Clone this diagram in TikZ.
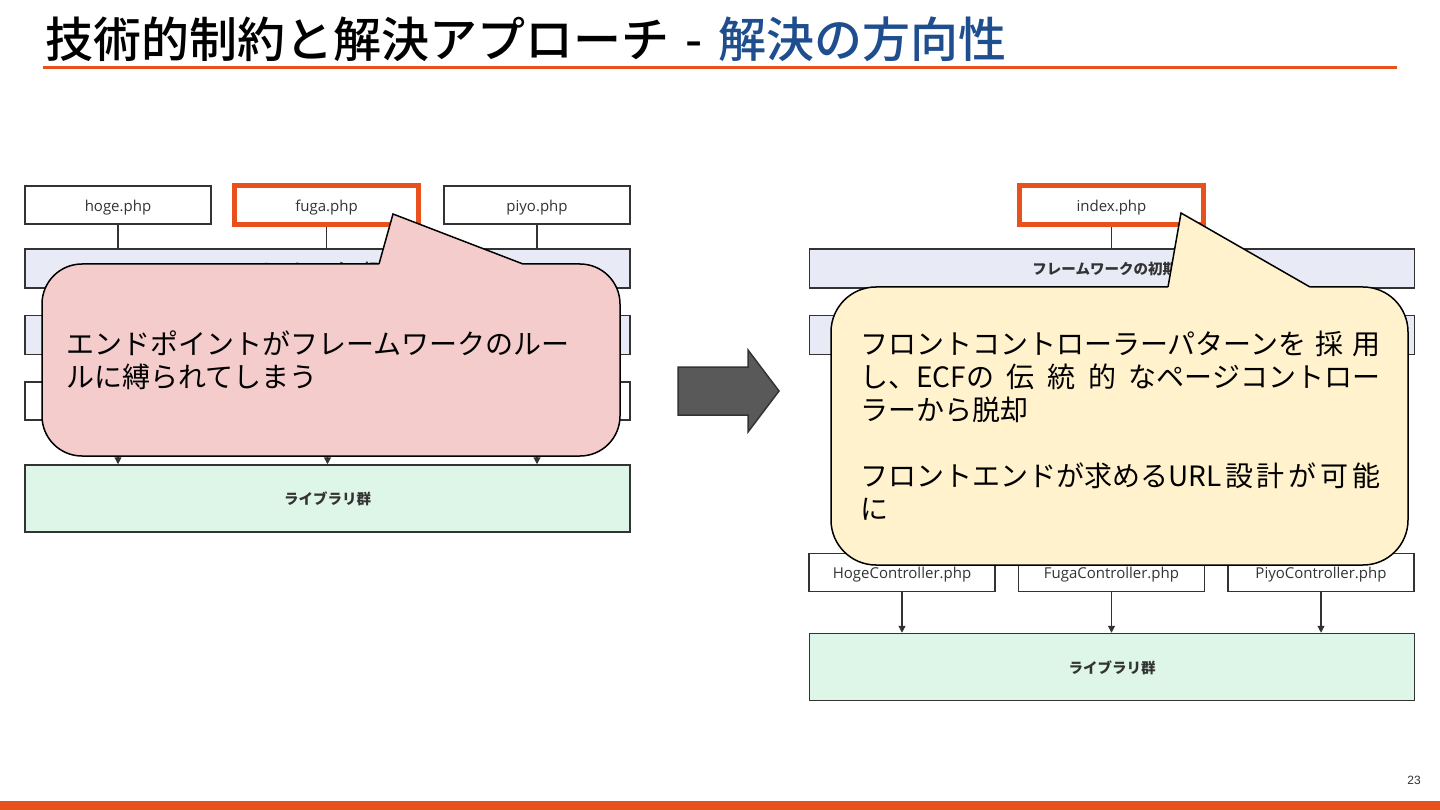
\documentclass[tikz,border=0pt]{standalone}
\usepackage{fontspec}
\setmainfont{Open Sans}
\newfontfamily\cjk{Noto Sans CJK JP}
\newfontfamily\cjkmed{Noto Sans CJK JP Medium}
\newfontfamily\pgnum{Liberation Sans}
\usetikzlibrary{arrows.meta}
\definecolor{orng}{HTML}{E8501C}
\definecolor{tblue}{HTML}{1F4E8F}
\definecolor{dk}{HTML}{333333}
\definecolor{lav}{HTML}{E8EAF6}
\definecolor{grn}{HTML}{DDF6E7}
\definecolor{pinkc}{HTML}{F4CCCC}
\definecolor{yelc}{HTML}{FFF2CC}
\definecolor{arrg}{HTML}{595959}
\tikzset{
 box/.style={draw=dk, line width=1.5pt, fill=white, minimum width=186pt, minimum height=38pt, inner sep=0pt, text height=13.5pt, text depth=1pt, font=\fontsize{15}{18}\selectfont, text=dk},
 hl/.style={box, draw=orng, line width=5pt, minimum width=184pt, minimum height=39pt},
 wide/.style={box, minimum width=605pt, minimum height=39pt, font=\cjk\bfseries\fontsize{14.5}{17}\selectfont},
 fw/.style={wide, fill=lav},
 lib/.style={wide, fill=grn, minimum height=67pt},
 conn/.style={draw=dk, line width=1.2pt},
 arr/.style={conn, -{Triangle[length=7pt,width=7pt]}},
 callout/.style={draw=black, line width=1.5pt, inner sep=0pt},
 ctext/.style={anchor=base west, inner sep=0pt, font=\cjk\fontsize{28}{33}\selectfont, text=black},
}
\newcommand{\gl}{\hspace{0pt plus 1fil}}
\begin{document}
\begin{tikzpicture}[x=1pt,y=-1pt]
\useasboundingbox (0,0) rectangle (1440,810);
\fill[white] (0,0) rectangle (1440,810);
% title
\node[anchor=base west, inner sep=0pt, font=\cjkmed\fontsize{48}{56}\selectfont] (title) at (45,58) {技術的制約と解決アプローチ\hspace{16pt}-\hspace{16pt}\textcolor{tblue}{解決の方向性}};
\draw[orng, line width=3.5pt] (43,67.5) -- (1397,67.5);
\fill[orng] (0,801) rectangle (1440,810);
\node[inner sep=0pt, font=\pgnum\fontsize{12}{14}\selectfont, text=dk] (pg) at (1414,780) {23};

% ---------- left diagram ----------
\node[box] (hoge) at (118,205) {hoge.php};
\node[hl] (fuga) at (326.5,205) {fuga.php};
\node[box] (piyo) at (537,205) {piyo.php};
\node[fw] (fwL) at (327.5,268.5) {フレームワークの初期化};
\node[fw] (mdL) at (327.5,335) {};
\node[box] (c1L) at (118,401) {};
\node[box] (c2L) at (327.5,401) {};
\node[box] (c3L) at (537,401) {};
\node[lib] (libL) at (327.5,498.5) {ライブラリ群};
\draw[conn] (hoge) -- (hoge |- fwL.north);
\draw[conn] (fuga) -- (fuga |- fwL.north);
\draw[conn] (piyo) -- (piyo |- fwL.north);
\draw[arr] (c1L) -- (c1L |- libL.north);
\draw[arr] (c2L) -- (c2L |- libL.north);
\draw[arr] (c3L) -- (c3L |- libL.north);

% ---------- big arrow ----------
\draw[fill=arrg, draw=dk, line width=1.5pt, line join=miter] (678,367) -- (748,367) -- (748,350) -- (779,391) -- (748,432) -- (748,415) -- (678,415) -- cycle;

% ---------- right diagram ----------
\node[hl] (idx) at (1111.5,205) {index.php};
\node[fw] (fwR) at (1112,268.5) {フレームワークの初期化};
\node[fw] (mdR) at (1112,335) {};
\node[box] (hc) at (902,572.5) {HogeController.php};
\node[box] (fc) at (1111.5,572.5) {FugaController.php};
\node[box] (pc) at (1321,572.5) {PiyoController.php};
\node[lib] (libR) at (1112,667) {ライブラリ群};
\draw[conn] (idx) -- (idx |- fwR.north);
\draw[arr] (hc) -- (hc |- libR.north);
\draw[arr] (fc) -- (fc |- libR.north);
\draw[arr] (pc) -- (pc |- libR.north);

% ---------- left callout ----------
\node[callout, fill=pinkc, rounded corners=40pt, minimum width=578pt, minimum height=192pt] (coL) at (331,360) {};
\coordinate (pLa) at (379,264);
\coordinate (pLt) at (393,214);
\coordinate (pLb) at (523,264);
\fill[pinkc] (379,266.5) -- (pLa) -- (pLt) -- (pLb) -- (523,266.5) -- cycle;
\draw[line width=1.5pt, line join=miter] (pLa) -- (pLt) -- (pLb);
\node[ctext] (tL1) at (66,354) {エンドポイントがフレームワークのルー};
\node[ctext] (tL2) at (66,387) {ルに縛られてしまう};

% ---------- right callout ----------
\node[callout, fill=yelc, rounded corners=45pt, minimum width=577pt, minimum height=278pt] (coR) at (1119.5,426) {};
\coordinate (pRa) at (1168,287);
\coordinate (pRt) at (1181,213);
\coordinate (pRb) at (1310,287);
\fill[yelc] (1168,289.5) -- (pRa) -- (pRt) -- (pRb) -- (1310,289.5) -- cycle;
\draw[line width=1.5pt, line join=miter] (pRa) -- (pRt) -- (pRb);
\node[ctext] (tR1) at (860,354) {\makebox[520pt][s]{フロントコントローラーパターンを 採 用}};
\node[ctext] (tR2) at (860,387) {\makebox[520pt][s]{し、ECFの 伝 統 的 なページコントロー}};
\node[ctext] (tR3) at (860,420) {ラーから脱却};
\node[ctext] (tR4) at (860,486) {\makebox[520pt][s]{フロントエンドが求めるURL\gl 設\gl 計\gl が\gl 可\gl 能}};
\node[ctext] (tR5) at (860,519) {に};
\end{tikzpicture}
\end{document}
